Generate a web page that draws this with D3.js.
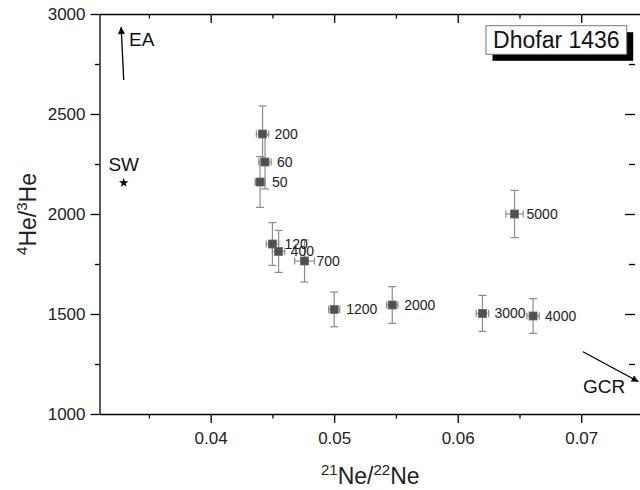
<!DOCTYPE html>
<html>
<head>
<meta charset="utf-8">
<script src="https://cdn.jsdelivr.net/npm/d3@7"></script>
<style>
  html, body { margin: 0; padding: 0; background: #fff; }
  svg { display: block; }
  text { font-family: "Liberation Sans", Arial, sans-serif; }
</style>
</head>
<body>
<svg id="chart" width="640" height="490"></svg>
<script>
// ---- data ----
const sampleLabels = ["50", "60", "200", "120", "400", "700", "1200", "2000", "3000", "4000", "5000"];
const neRatio = [0.0440, 0.0444, 0.0442, 0.0450, 0.0455, 0.0476, 0.0500, 0.0547, 0.0620, 0.0661, 0.0646];
const heRatio = [2160, 2260, 2400, 1850, 1813, 1765, 1523, 1545, 1503, 1490, 2000];
const neErr = [0.0004, 0.0005, 0.0005, 0.0005, 0.0005, 0.0008, 0.00045, 0.00046, 0.0005, 0.0005, 0.0007];
const heErr = [127, 135, 140, 107, 105, 105, 87, 92, 90, 87, 118];

const xTicks = [0.04, 0.05, 0.06, 0.07];
const xMinorTicks = [0.035, 0.045, 0.055, 0.065];
const yTicks = [1000, 1500, 2000, 2500, 3000];
const yMinorTicks = [1250, 1750, 2250, 2750];

const swPoint = { name: "SW", x: 0.03296, y: 2156 };
const eaArrow = { name: "EA", from: [0.03296, 2670], to: [0.03275, 2935] };
const gcrArrow = { name: "GCR", from: [0.07014, 1311], to: [0.07464, 1161] };
const titleText = "Dhofar 1436";

// ---- layout ----
const svg = d3.select("#chart");
const mLeft = 99.5, mRight = 643, mTop = 14, mBottom = 414;
const x = d3.scaleLinear().domain([0.031, 0.075]).range([mLeft, mRight]);
const y = d3.scaleLinear().domain([1000, 3000]).range([mBottom, mTop]);

const defs = svg.append("defs");
defs.append("marker").attr("id", "arrow").attr("viewBox", "0 0 10 10")
  .attr("refX", 10).attr("refY", 5).attr("markerWidth", 10).attr("markerHeight", 7)
  .attr("markerUnits", "userSpaceOnUse").attr("orient", "auto")
  .append("path").attr("d", "M0,0 L10,5 L0,10 Z").attr("fill", "#000");

const axisStroke = (g) => {
  g.selectAll("path.domain").attr("stroke", "#000").attr("stroke-width", 1.3);
  g.selectAll(".tick line").attr("stroke", "#000").attr("stroke-width", 1.3);
};

// bottom
const gx = svg.append("g").attr("transform", `translate(0,${mBottom})`)
  .call(d3.axisBottom(x).tickValues(xTicks).tickSize(9).tickSizeOuter(0).tickPadding(9)
    .tickFormat(d3.format(".2f")));
axisStroke(gx);
gx.selectAll("text").attr("font-size", 17).attr("fill", "#222")
  .attr("font-family", "Liberation Sans, Arial, sans-serif");
svg.append("g").attr("transform", `translate(0,${mBottom})`)
  .call(d3.axisBottom(x).tickValues(xMinorTicks).tickSize(4.5).tickFormat(""))
  .call(g => g.select(".domain").remove()).call(axisStroke);

// top (inward ticks)
const gt = svg.append("g").attr("transform", `translate(0,${mTop})`)
  .call(d3.axisBottom(x).tickValues(xTicks).tickSize(9).tickSizeOuter(0).tickFormat(""));
axisStroke(gt);
svg.append("g").attr("transform", `translate(0,${mTop})`)
  .call(d3.axisBottom(x).tickValues(xMinorTicks).tickSize(4.5).tickFormat(""))
  .call(g => g.select(".domain").remove()).call(axisStroke);

// left
const gy = svg.append("g").attr("transform", `translate(${mLeft},0)`)
  .call(d3.axisLeft(y).tickValues(yTicks).tickSize(9).tickSizeOuter(0).tickPadding(5)
    .tickFormat(d3.format("d")));
axisStroke(gy);
gy.selectAll("text").attr("font-size", 17).attr("fill", "#222")
  .attr("font-family", "Liberation Sans, Arial, sans-serif");
svg.append("g").attr("transform", `translate(${mLeft},0)`)
  .call(d3.axisLeft(y).tickValues(yMinorTicks).tickSize(4.5).tickFormat(""))
  .call(g => g.select(".domain").remove()).call(axisStroke);

// right (inward ticks, axis line outside view)
svg.append("g").attr("transform", `translate(${mRight},0)`)
  .call(d3.axisRight(y).tickValues([]).tickSizeOuter(0))
  .call(axisStroke);
svg.append("g").attr("transform", `translate(635,0)`)
  .call(d3.axisLeft(y).tickValues(yTicks.filter(v => v > 1000 && v < 3000)).tickSize(10).tickFormat(""))
  .call(g => g.select(".domain").remove()).call(axisStroke);
svg.append("g").attr("transform", `translate(635,0)`)
  .call(d3.axisLeft(y).tickValues(yMinorTicks).tickSize(6).tickFormat(""))
  .call(g => g.select(".domain").remove()).call(axisStroke);

// axis titles
const xt = svg.append("text").attr("x", (mLeft + 643) / 2 - 1).attr("y", 484)
  .attr("text-anchor", "middle").attr("font-size", 23).attr("fill", "#222");
xt.append("tspan").attr("font-size", 15).attr("dy", -9).text("21");
xt.append("tspan").attr("dy", 9).text("Ne/");
xt.append("tspan").attr("font-size", 15).attr("dy", -9).text("22");
xt.append("tspan").attr("dy", 9).text("Ne");

const yt = svg.append("text").attr("transform", `translate(36,${(mTop + mBottom) / 2}) rotate(-90)`)
  .attr("text-anchor", "middle").attr("font-size", 23).attr("fill", "#222");
yt.append("tspan").attr("font-size", 15).attr("dy", -9).text("4");
yt.append("tspan").attr("dy", 9).text("He/");
yt.append("tspan").attr("font-size", 15).attr("dy", -9).text("3");
yt.append("tspan").attr("dy", 9).text("He");

// data
const data = sampleLabels.map((l, i) => ({ label: l, x: neRatio[i], y: heRatio[i], ex: neErr[i], ey: heErr[i] }));
const errColor = "#8c8c8c";
const eb = svg.append("g").attr("stroke", errColor).attr("stroke-width", 1.2).attr("fill", "none");
data.forEach(d => {
  const cx = x(d.x), cy = y(d.y);
  const y1 = y(d.y + d.ey), y2 = y(d.y - d.ey);
  const x1 = x(d.x - d.ex), x2 = x(d.x + d.ex);
  eb.append("line").attr("x1", cx).attr("x2", cx).attr("y1", y1).attr("y2", y2);
  eb.append("line").attr("x1", cx - 4).attr("x2", cx + 4).attr("y1", y1).attr("y2", y1);
  eb.append("line").attr("x1", cx - 4).attr("x2", cx + 4).attr("y1", y2).attr("y2", y2);
  eb.append("line").attr("x1", x1).attr("x2", x2).attr("y1", cy).attr("y2", cy);
  eb.append("line").attr("x1", x1).attr("x2", x1).attr("y1", cy - 3.5).attr("y2", cy + 3.5);
  eb.append("line").attr("x1", x2).attr("x2", x2).attr("y1", cy - 3.5).attr("y2", cy + 3.5);
});
svg.append("g").selectAll("rect").data(data).join("rect")
  .attr("x", d => x(d.x) - 4).attr("y", d => y(d.y) - 4)
  .attr("width", 8).attr("height", 8)
  .attr("fill", "#505050").attr("stroke", "#6a6a6a").attr("stroke-width", 0.8);
svg.append("g").selectAll("text").data(data).join("text")
  .attr("x", d => x(d.x) + 12).attr("y", d => y(d.y)).attr("dy", "0.36em")
  .attr("font-size", 14).attr("fill", "#222").text(d => d.label);

// SW star
svg.append("path").attr("d", d3.symbol(d3.symbolStar, 28)())
  .attr("transform", `translate(${x(swPoint.x)},${y(swPoint.y)})`).attr("fill", "#000");
svg.append("text").attr("x", x(swPoint.x)).attr("y", y(swPoint.y) - 12).attr("text-anchor", "middle")
  .attr("font-size", 19).attr("fill", "#111").text(swPoint.name);

// arrows
[eaArrow, gcrArrow].forEach(a => {
  svg.append("line").attr("x1", x(a.from[0])).attr("y1", y(a.from[1]))
    .attr("x2", x(a.to[0])).attr("y2", y(a.to[1]))
    .attr("stroke", "#000").attr("stroke-width", 1.3).attr("marker-end", "url(#arrow)");
});
svg.append("text").attr("x", x(eaArrow.to[0]) + 8).attr("y", 46)
  .attr("font-size", 19).attr("fill", "#111").text(eaArrow.name);
svg.append("text").attr("x", x(gcrArrow.from[0])).attr("y", 393)
  .attr("font-size", 19).attr("fill", "#111").text(gcrArrow.name);

// title box
const bx = 486, by = 25.7, bw = 140.7, bh = 28.6;
svg.append("rect").attr("x", bx + 6.5).attr("y", by + 6.5).attr("width", bw).attr("height", bh).attr("fill", "#000");
svg.append("rect").attr("x", bx).attr("y", by).attr("width", bw).attr("height", bh)
  .attr("fill", "#fff").attr("stroke", "#777").attr("stroke-width", 1);
svg.append("text").attr("x", bx + bw / 2).attr("y", by + 22.5).attr("text-anchor", "middle")
  .attr("font-size", 23).attr("fill", "#111").text(titleText);
</script>
</body>
</html>
